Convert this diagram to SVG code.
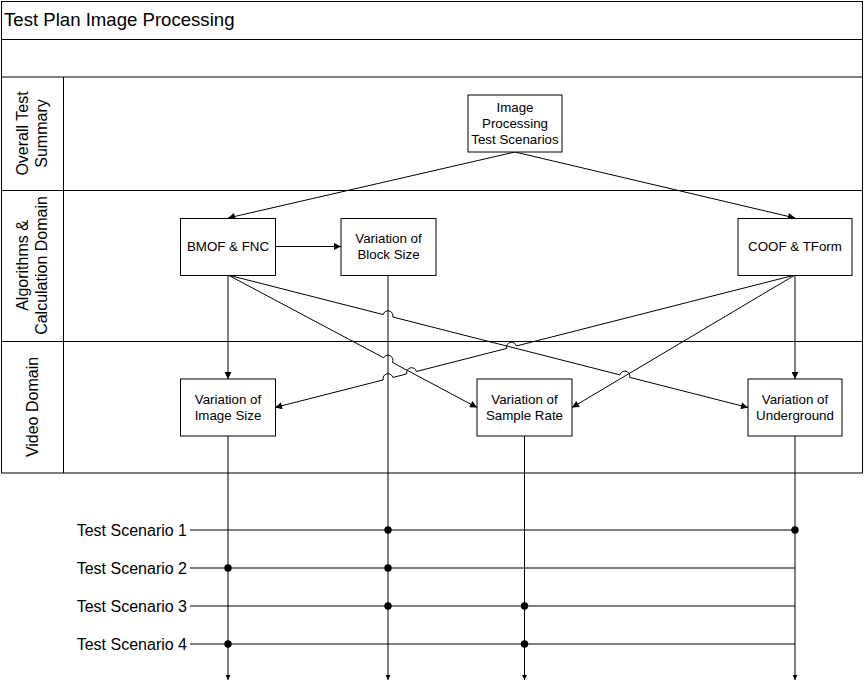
<svg xmlns="http://www.w3.org/2000/svg" width="864" height="682" viewBox="0 0 864 682">
<style>
.frame{fill:none;stroke:#000;stroke-width:1}
.box{fill:#fff;stroke:#000;stroke-width:1}
.ln{fill:none;stroke:#000;stroke-width:1}
.arr{marker-end:url(#ah)}
.arrs{marker-end:url(#ahs)}
.t{font-family:"Liberation Sans",Arial,sans-serif;font-size:13.33px;fill:#000;text-anchor:middle}
.lane{font-family:"Liberation Sans",Arial,sans-serif;font-size:16px;fill:#000;text-anchor:middle}
.sc{font-family:"Liberation Sans",Arial,sans-serif;font-size:16px;fill:#000;text-anchor:end}
.title{font-family:"Liberation Sans",Arial,sans-serif;font-size:18.6px;fill:#000}
.dot{fill:#000}
</style>
<defs>
<marker id="ah" viewBox="0 0 10 10" refX="10" refY="5" markerWidth="9" markerHeight="7" markerUnits="userSpaceOnUse" orient="auto"><path d="M0,0 L10,5 L0,10 z" fill="#000"/></marker>
<marker id="ahs" viewBox="0 0 10 10" refX="10" refY="5" markerWidth="6" markerHeight="5" markerUnits="userSpaceOnUse" orient="auto"><path d="M0,0 L10,5 L0,10 z" fill="#000"/></marker>
</defs>
<rect width="864" height="682" fill="#fff"/>
<g id="frame">
<rect class="frame" x="1.5" y="1.5" width="861" height="471.5"/>
<line class="frame" x1="1.5" y1="39.5" x2="862.5" y2="39.5"/>
<line class="frame" x1="1.5" y1="77" x2="862.5" y2="77"/>
<line class="frame" x1="1.5" y1="190.5" x2="862.5" y2="190.5"/>
<line class="frame" x1="1.5" y1="341.5" x2="862.5" y2="341.5"/>
<line class="frame" x1="63.5" y1="77" x2="63.5" y2="473"/>
<text class="title" x="4" y="26">Test Plan Image Processing</text>
<text class="lane" transform="translate(28,133.5) rotate(-90)">Overall Test</text>
<text class="lane" transform="translate(46.5,133.5) rotate(-90)">Summary</text>
<text class="lane" transform="translate(28,265.5) rotate(-90)">Algorithms &amp;</text>
<text class="lane" transform="translate(46.5,265.5) rotate(-90)">Calculation Domain</text>
<text class="lane" transform="translate(38,407) rotate(-90)">Video Domain</text>
</g>
<g id="connectors">
<path class="ln arr" d="M515,152 L228,218"/>
<path class="ln arr" d="M515,152 L795,218"/>
<path class="ln arr" d="M275,246.5 L341,246.5"/>
<path class="ln arr" d="M228,275 L228,379"/>
<path class="ln arr" d="M795,275 L795,379"/>
<path class="ln arr" d="M228,275 L383.15,314.57 A5,5 0 0 1 392.85,317.03 L619.95,374.87 A5,5 0 0 1 629.65,377.33 L748,407.5"/>
<path class="ln arr" d="M228,275 L383.59,357.75 A5,5 0 0 1 392.41,362.45 L477,407.5"/>
<path class="ln arr" d="M795,275 L516.35,345.97 A5,5 0 0 0 506.65,348.43 L416.45,371.47 A5,5 0 0 0 406.75,373.93 L392.85,377.47 A5,5 0 0 0 383.15,379.93 L275,407.5"/>
<path class="ln arr" d="M795,275 L572,407.5"/>
<path class="ln arrs" d="M388,275 L388,680"/>
<path class="ln arrs" d="M228,436 L228,680"/>
<path class="ln arrs" d="M524.5,436 L524.5,680"/>
<path class="ln arrs" d="M795,436 L795,680"/>
</g>
<g id="scenarios">
<text class="sc" x="187" y="535.5">Test Scenario 1</text>
<text class="sc" x="187" y="573.5">Test Scenario 2</text>
<text class="sc" x="187" y="611.5">Test Scenario 3</text>
<text class="sc" x="187" y="649.5">Test Scenario 4</text>
<line class="ln" x1="190" y1="530" x2="795" y2="530"/>
<line class="ln" x1="190" y1="568" x2="795" y2="568"/>
<line class="ln" x1="190" y1="606" x2="795" y2="606"/>
<line class="ln" x1="190" y1="644" x2="795" y2="644"/>
<circle class="dot" cx="388" cy="530" r="3.7"/>
<circle class="dot" cx="795" cy="530" r="3.7"/>
<circle class="dot" cx="228" cy="568" r="3.7"/>
<circle class="dot" cx="388" cy="568" r="3.7"/>
<circle class="dot" cx="388" cy="606" r="3.7"/>
<circle class="dot" cx="524.5" cy="606" r="3.7"/>
<circle class="dot" cx="228" cy="644" r="3.7"/>
<circle class="dot" cx="524.5" cy="644" r="3.7"/>
</g>
<g id="node-image-processing">
<rect class="box" x="468" y="95" width="94" height="57"/>
<text class="t" x="515" y="111.5">Image</text>
<text class="t" x="515" y="127.5">Processing</text>
<text class="t" x="515" y="143.5">Test Scenarios</text>
</g>
<g id="node-bmof">
<rect class="box" x="180.5" y="218.5" width="95" height="57"/>
<text class="t" x="228" y="251">BMOF &amp; FNC</text>
</g>
<g id="node-block-size">
<rect class="box" x="341" y="218.5" width="95" height="57"/>
<text class="t" x="388.5" y="243">Variation of</text>
<text class="t" x="388.5" y="259">Block Size</text>
</g>
<g id="node-coof">
<rect class="box" x="738" y="218.5" width="114" height="57"/>
<text class="t" x="795" y="251">COOF &amp; TForm</text>
</g>
<g id="node-image-size">
<rect class="box" x="180.5" y="379" width="95" height="57"/>
<text class="t" x="228" y="404">Variation of</text>
<text class="t" x="228" y="420">Image Size</text>
</g>
<g id="node-sample-rate">
<rect class="box" x="477" y="379" width="95" height="57"/>
<text class="t" x="524.5" y="404">Variation of</text>
<text class="t" x="524.5" y="420">Sample Rate</text>
</g>
<g id="node-underground">
<rect class="box" x="748" y="379" width="94" height="57"/>
<text class="t" x="795" y="404">Variation of</text>
<text class="t" x="795" y="420">Underground</text>
</g>
</svg>
